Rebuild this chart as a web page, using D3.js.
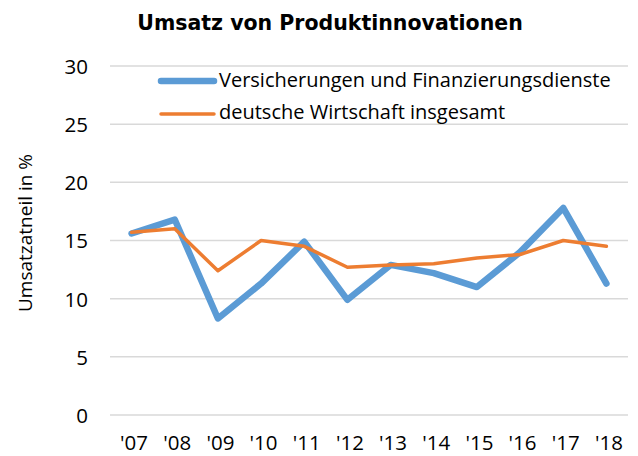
<!DOCTYPE html>
<html lang="de">
<head>
<meta charset="UTF-8">
<title>Umsatz von Produktinnovationen</title>
<script src="https://d3js.org/d3.v7.min.js"></script>
<style>
  body { margin: 0; background: #fff; }
  svg { display: block; font-family: "Open Sans", Arial, sans-serif; }
  .title { font-family: "DejaVu Sans", Verdana, sans-serif; font-weight: bold; font-size: 20.5px; }
  .tick text { font-size: 20.5px; fill: #000; font-family: "Open Sans", Arial, sans-serif; }
  .legend text { font-size: 20px; }
</style>
</head>
<body>
<svg width="638" height="456"></svg>
<script>
const years = ["'07", "'08", "'09", "'10", "'11", "'12", "'13", "'14", "'15", "'16", "'17", "'18"];
const versicherung = [15.6, 16.8, 8.3, 11.3, 14.9, 9.9, 12.9, 12.2, 11.0, 14.0, 17.8, 11.3];
const wirtschaft = [15.7, 16.0, 12.4, 15.0, 14.5, 12.7, 12.9, 13.0, 13.5, 13.8, 15.0, 14.5];
const yTicks = [0, 5, 10, 15, 20, 25, 30];

const svg = d3.select("svg");
const margin = { top: 66, right: 10, bottom: 41, left: 110 };
const width = 638 - margin.left - margin.right;
const height = 456 - margin.top - margin.bottom;
const g = svg.append("g").attr("transform", `translate(${margin.left},${margin.top})`);

const x = d3.scalePoint().domain(years).range([0, width]).padding(0.5);
const y = d3.scaleLinear().domain([0, 30]).range([height, 0]);

// gridlines
g.selectAll(".grid").data(yTicks).enter().append("line")
  .attr("x1", 0).attr("x2", width)
  .attr("y1", d => y(d)).attr("y2", d => y(d))
  .attr("stroke", "#d9d9d9").attr("stroke-width", 1.5);

const yAxis = g.append("g").call(d3.axisLeft(y).tickValues(yTicks).tickSize(0).tickPadding(22));
yAxis.select(".domain").remove();
yAxis.selectAll("text").attr("dy", "0.36em");

const xAxis = g.append("g").attr("transform", `translate(0,${height})`)
  .call(d3.axisBottom(x).tickSize(0));
xAxis.select(".domain").remove();
xAxis.selectAll("text").attr("y", 35).attr("dy", 0).attr("dx", 2);

const line = d3.line().x((d, i) => x(years[i])).y(d => y(d));

g.append("path").datum(versicherung).attr("d", line)
  .attr("fill", "none").attr("stroke", "#5b9bd5").attr("stroke-width", 6.5)
  .attr("stroke-linejoin", "round").attr("stroke-linecap", "round");

g.append("path").datum(wirtschaft).attr("d", line)
  .attr("fill", "none").attr("stroke", "#ed7d31").attr("stroke-width", 3.5)
  .attr("stroke-linejoin", "round").attr("stroke-linecap", "round");

// title
svg.append("text").attr("class", "title").attr("x", 330).attr("y", 30)
  .attr("text-anchor", "middle").text("Umsatz von Produktinnovationen");

// axis title
svg.append("text").attr("transform", "translate(32,233) rotate(-90)")
  .attr("text-anchor", "middle").style("font-size", "19px")
  .text("Umsatzatneil in %");

// legend
const legendItems = [
  { name: "Versicherungen und Finanzierungsdienste", color: "#5b9bd5", w: 6.5, y: 81, base: 87 },
  { name: "deutsche Wirtschaft insgesamt", color: "#ed7d31", w: 3.5, y: 114, base: 119 }
];
const legend = svg.append("g").attr("class", "legend");
legendItems.forEach(item => {
  legend.append("line").attr("x1", 161).attr("x2", 214)
    .attr("y1", item.y).attr("y2", item.y)
    .attr("stroke", item.color).attr("stroke-width", item.w).attr("stroke-linecap", "round");
  legend.append("text").attr("x", 219).attr("y", item.base).text(item.name);
});
</script>
</body>
</html>
